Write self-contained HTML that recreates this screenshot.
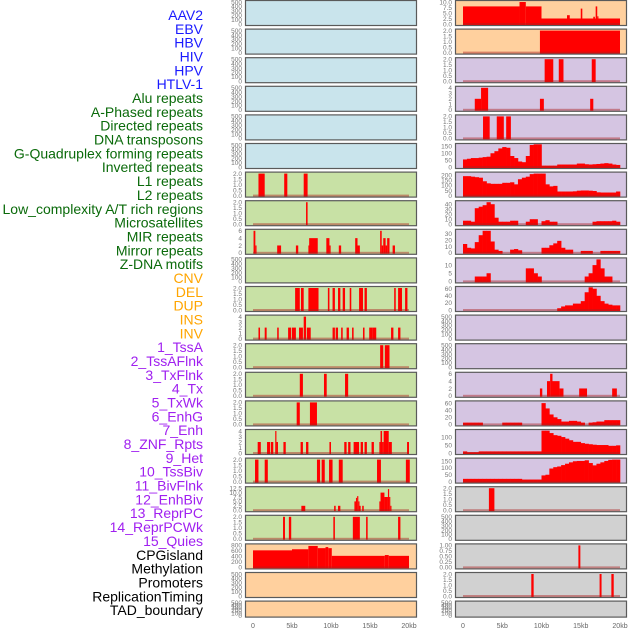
<!DOCTYPE html>
<html><head><meta charset="utf-8">
<style>
html,body{margin:0;padding:0;background:#fff;}
svg{display:block;font-family:"Liberation Sans",sans-serif;}
</style></head>
<body>
<svg id="chart" width="630" height="630" viewBox="0 0 630 630" xmlns="http://www.w3.org/2000/svg"></svg>
<script>
// ---------- labels ----------
const trackLabels = ["AAV2","EBV","HBV","HIV","HPV","HTLV-1","Alu repeats","A-Phased repeats","Directed repeats","DNA transposons","G-Quadruplex forming repeats","Inverted repeats","L1 repeats","L2 repeats","Low_complexity A/T rich regions","Microsatellites","MIR repeats","Mirror repeats","Z-DNA motifs","CNV","DEL","DUP","INS","INV","1_TssA","2_TssAFlnk","3_TxFlnk","4_Tx","5_TxWk","6_EnhG","7_Enh","8_ZNF_Rpts","9_Het","10_TssBiv","11_BivFlnk","12_EnhBiv","13_ReprPC","14_ReprPCWk","15_Quies","CPGisland","Methylation","Promoters","ReplicationTiming","TAD_boundary"];
const labelGroups = [6,13,5,15,5];
const xTickValues = [0,5,10,15,20];
const xTickLabels = ["0","5kb","10kb","15kb","20kb"];

// ---------- bar-type data: [startKb, endKb, value] ----------
const aluSegs = [[0.7,1.5,2],[4.0,4.4,2],[6.5,7.0,2]];
const aPhasedSegs = [[6.8,7.0,2]];
const directedSegs = [[0.07,0.3,6],[0.3,0.45,2],[3.1,3.6,2],[5.5,5.8,2],[7.1,7.2,2],[7.2,8.3,4],[9.4,9.8,4],[9.8,9.9,2],[11.0,11.3,2],[13.1,13.4,4],[13.4,13.7,2],[16.3,16.5,6],[16.5,16.7,2],[16.7,17.0,4],[17.0,17.2,2],[17.2,17.5,4],[17.9,18.2,2]];
const gquadSegs = [[5.4,6.0,2],[6.15,6.5,2],[7.1,8.4,2],[9.6,9.8,2],[10.2,10.5,2],[10.9,11.2,2],[11.5,11.8,2],[12.4,12.6,2],[13.6,14.1,2],[14.3,14.6,2],[18.1,18.3,2],[18.6,19.1,2],[19.5,19.8,2]];
const invertedSegs = [[0.7,0.9,2],[1.5,1.75,2],[3.1,3.3,2],[4.5,4.9,2],[5.0,5.5,2],[5.9,6.4,2],[6.5,6.8,4],[6.9,7.4,2],[10.2,10.5,2],[10.6,10.9,2],[11.3,11.5,2],[12.0,12.3,2],[12.7,12.9,2],[14.1,14.3,2],[14.9,15.3,2],[15.3,15.8,2],[17.7,18.0,2],[18.6,18.9,2]];
const l1Segs = [[16.3,16.7,2],[16.9,17.5,2]];
const l2Segs = [[6.0,6.4,2],[9.1,9.45,2],[11.8,12.2,2]];
const lowCompSegs = [[5.6,6.0,2],[7.3,8.2,2]];
const microSegs = [[0.6,1.0,2],[1.8,2.2,2],[2.3,2.6,2],[2.85,3.0,4],[3.0,3.2,2],[3.9,4.2,2],[6.1,6.4,2],[6.8,7.1,2],[9.8,10.0,2],[11.7,12.0,2],[12.2,12.5,2],[12.9,13.6,2],[13.8,14.1,2],[14.3,14.6,2],[15.2,15.5,2],[16.2,16.35,2],[16.35,16.55,4],[16.55,16.75,2],[16.75,17.4,4],[17.4,17.8,2],[19.75,20.0,2]];
const mirSegs = [[0.26,0.7,2],[1.5,1.9,2],[8.2,8.6,2],[8.8,9.2,2],[9.75,10.2,2],[11.0,11.5,2],[15.9,16.4,2],[19.6,20.1,2]];
const mirrorSegs = [[6.2,6.7,2.5],[10.4,10.6,2.5],[10.9,11.2,2.5],[13.0,13.2,5],[13.2,13.35,7],[13.35,13.5,8],[13.5,13.65,5],[13.65,13.8,2.5],[14.0,14.2,2.5],[16.2,16.35,5],[16.35,16.85,10],[16.85,17.3,7.5],[17.3,17.45,12],[17.45,17.6,7.5],[17.6,17.75,2.5]];
const zdnaSegs = [[3.85,4.1,2],[4.6,4.9,2],[10.3,10.5,2],[12.8,13.7,2],[14.5,14.7,2],[18.6,18.9,2]];
const cnvSegs = [[0,5.0,620],[5.0,7.1,660],[7.1,8.3,780],[8.3,9.3,700],[9.3,9.65,740],[9.65,10.1,700],[10.1,16.9,420],[16.9,17.4,450],[17.4,20.0,420]];
const insSegs = [[0,7.2,8],[7.2,8.0,10],[8.0,10.0,8],[10.0,20.0,2.5],[13.25,13.6,4],[15.0,15.2,7],[16.6,16.8,3.3],[16.9,17.1,8],[17.1,17.25,3.5]];
const invSegs = [[9.8,20.0,2]];
const tssASegs = [[10.4,11.5,2],[12.2,12.8,2],[16.4,16.9,2]];
const tssAFlnkSegs = [[1.5,2.3,2],[2.3,3.2,4],[9.8,10.3,2],[16.2,16.6,2]];
const txFlnkSegs = [[2.55,3.4,2],[4.3,5.2,2],[5.5,6.1,2]];
const enhBivSegs = [[9.8,10.1,2],[10.7,11.1,4],[11.1,11.4,6],[11.4,12.3,4],[12.3,12.8,2],[14.8,15.8,2],[19.0,19.6,2]];
const cpgSegs = [[3.3,4.0,2]];
const promoterSegs = [[14.7,14.95,1]];
const replSegs = [[8.7,9.0,2],[17.4,17.65,2],[18.9,19.2,2]];

// ---------- area-type data: values per 0.5kb bin (0 .. 19.5kb) ----------
const txBins = [55,60,65,65,68,72,75,100,115,135,145,140,80,65,40,35,80,160,175,165,10,10,10,10,18,18,18,18,18,25,25,20,18,20,22,25,28,25,18,15];
const txWkBins = [190,190,185,180,175,140,120,115,115,115,125,125,130,110,160,175,185,210,215,215,215,110,90,95,40,40,40,40,42,48,50,50,48,45,32,30,30,30,30,40];
const enhGBins = [7,7,5,32,35,38,44,40,13,5,5,5,7,7,0,0,5,10,10,0,6,8,5,5,0,0,0,0,0,0,0,0,0,5,6,6,6,6,7,5];
const enhBins = [14,8,7,17,28,35,35,18,5,3,0,0,5,6,4,0,0,0,0,0,8,8,12,15,19,8,5,5,0,0,3,3,3,0,0,3,3,3,3,3];
const znfBins = [0,0,0,3,3,3,5,0,0,0,0,0,0,0,0,0,8,8,5,3,0,0,0,0,0,0,0,0,0,0,0,3,5,10,13.5,8,3,3,0,0];
const hetBins = [0,0,0,0,0,0,0,0,0,0,0,0,0,0,0,0,0,0,0,0,0,0,0,0,5,10,13,13,18,18,25,50,65,60,40,25,18,15,13,13];
const reprPCBins = [5,5,5,5,5,0,0,0,0,0,5,5,5,5,5,0,0,0,0,0,60,45,28,20,15,8,8,10,10,8,5,0,5,6,8,8,12,12,12,12];
const reprPCWkBins = [10,5,5,5,10,10,10,10,10,10,10,10,10,10,10,10,10,10,10,10,140,140,125,112,108,100,90,80,70,70,62,58,55,52,50,50,50,45,45,48];
const quiesBins = [20,20,20,20,20,20,20,20,20,20,20,20,20,20,20,15,15,15,15,15,45,50,95,105,110,120,130,140,148,150,150,155,135,118,130,140,150,158,160,160];

// ---------- tick label sets ----------
const ticksEmpty = ["0","100","200","300","400","500"];
const ticks2 = ["0.0","0.5","1.0","1.5","2.0"];
const ticks4 = ["0","1","2","3","4"];
const ticks6 = ["0","2","4","6"];

// panel config: [col,row,bg,type,data,ymax,tickLabels,tickVals]
const BG = {blue:"#c9e4ec", green:"#c8e1a5", peach:"#ffd09e", lav:"#d5c5e2", grey:"#d1d1d1"};
const panels = [
 [0,0,"blue"],[0,1,"blue"],[0,2,"blue"],[0,3,"blue"],[0,4,"blue"],[0,5,"blue"],
 [0,6,"green","bar",aluSegs,2,ticks2,[0,0.5,1,1.5,2]],
 [0,7,"green","bar",aPhasedSegs,2,ticks2,[0,0.5,1,1.5,2]],
 [0,8,"green","bar",directedSegs,6,["0","2","4","6"],[0,2,4,6]],
 [0,9,"green"],
 [0,10,"green","bar",gquadSegs,2,ticks2,[0,0.5,1,1.5,2]],
 [0,11,"green","bar",invertedSegs,4,ticks4,[0,1,2,3,4]],
 [0,12,"green","bar",l1Segs,2,ticks2,[0,0.5,1,1.5,2]],
 [0,13,"green","bar",l2Segs,2,ticks2,[0,0.5,1,1.5,2]],
 [0,14,"green","bar",lowCompSegs,2,ticks2,[0,0.5,1,1.5,2]],
 [0,15,"green","bar",microSegs,4,ticks4,[0,1,2,3,4]],
 [0,16,"green","bar",mirSegs,2,ticks2,[0,0.5,1,1.5,2]],
 [0,17,"green","bar",mirrorSegs,12.5,["0.0","2.5","5.0","7.5","10.0","12.5"],[0,2.5,5,7.5,10,12.5]],
 [0,18,"green","bar",zdnaSegs,2,ticks2,[0,0.5,1,1.5,2]],
 [0,19,"peach","bar",cnvSegs,800,["0","200","400","600","800"],[0,200,400,600,800]],
 [0,20,"peach"],[0,21,"peach"],
 [1,0,"peach","bar",insSegs,10,["0.0","2.5","5.0","7.5","10.0"],[0,2.5,5,7.5,10]],
 [1,1,"peach","bar",invSegs,2,ticks2,[0,0.5,1,1.5,2]],
 [1,2,"lav","bar",tssASegs,2,ticks2,[0,0.5,1,1.5,2]],
 [1,3,"lav","bar",tssAFlnkSegs,4,ticks4,[0,1,2,3,4]],
 [1,4,"lav","bar",txFlnkSegs,2,ticks2,[0,0.5,1,1.5,2]],
 [1,5,"lav","area",txBins,160,["0","50","100","150"],[0,50,100,150]],
 [1,6,"lav","area",txWkBins,215,["0","50","100","150","200"],[0,50,100,150,200]],
 [1,7,"lav","area",enhGBins,44,["0","10","20","30","40"],[0,10,20,30,40]],
 [1,8,"lav","area",enhBins,35,["0","10","20","30"],[0,10,20,30]],
 [1,9,"lav","area",znfBins,13.5,["0","5","10"],[0,5,10]],
 [1,10,"lav","area",hetBins,62,["0","20","40","60"],[0,20,40,60]],
 [1,11,"lav"],[1,12,"lav"],
 [1,13,"lav","bar",enhBivSegs,6,ticks6,[0,2,4,6]],
 [1,14,"lav","area",reprPCBins,62,["0","20","40","60"],[0,20,40,60]],
 [1,15,"lav","area",reprPCWkBins,138,["0","50","100"],[0,50,100]],
 [1,16,"lav","area",quiesBins,160,["0","50","100","150"],[0,50,100,150]],
 [1,17,"grey","bar",cpgSegs,2,ticks2,[0,0.5,1,1.5,2]],
 [1,18,"grey"],
 [1,19,"grey","bar",promoterSegs,1,["0.00","0.25","0.50","0.75","1.00"],[0,0.25,0.5,0.75,1]],
 [1,20,"grey","bar",replSegs,2,ticks2,[0,0.5,1,1.5,2]],
 [1,21,"grey"]
];

const NS = "http://www.w3.org/2000/svg";
const svg = document.getElementById("chart");
function mk(tag, attrs, parent){
  const e = document.createElementNS(NS, tag);
  for (const k in attrs) e.setAttribute(k, attrs[k]);
  (parent||svg).appendChild(e);
  return e;
}
const colX = [245, 455];
const colW = 171;
const kb0 = [253, 463];
const kbScale = [7.8, 7.85];
function xScale(col, kb){ return kb0[col] + kb*kbScale[col]; }
function rowTop(r){ return r*28.6; }
function rowH(r){ return r===21 ? 16 : 25; }

// labels
const groupColors = ["#1a1aff","#0a6a0a","#ffa500","#a020f0","#000000"];
let gi = 0, cnt = 0;
trackLabels.forEach((t,i)=>{
  while (cnt >= labelGroups[gi]) { cnt -= labelGroups[gi]; gi++; }
  cnt++;
  const el = mk("text",{x:203,y:15+i*13.84+5,"text-anchor":"end","font-size":"14px",fill:groupColors[gi]});
  el.textContent = t;
  
  
});

panels.forEach((p, idx)=>{
  const [col,row,bgKey,type,data,ymax,tLabels,tVals] = p;
  const x = colX[col], top = rowTop(row), h = rowH(row);
  const g = mk("g",{});
  
  
  mk("rect",{x:x+0.5,y:top+0.5,width:colW,height:h,fill:BG[bgKey],stroke:"#5a5a5a","stroke-width":1.2},g);
  const y0 = top + h - 1, y1 = top + 2;
  if (!type){
    ticksEmpty.forEach((t,i)=>{
      const yy = y0 - i*(y0-y1)/5;
      const el = mk("text",{x:x-3,y:yy+2.3,"text-anchor":"end","font-size":"6.5px",fill:"#777"},g);
      el.textContent = t;
      
      
    });
    return;
  }
  const yScale = v => y0 - Math.min(v/ymax,1.03)*(y0-y1);
  const cp = "clip"+idx;
  const cpEl = mk("clipPath",{id:cp},g);
  mk("rect",{x:x+1,y:top+1,width:colW-1,height:h-1},cpEl);
  const marks = mk("g",{"clip-path":"url(#"+cp+")"},g);
  if (type === "bar"){
    data.forEach(s=>{
      const xa = xScale(col,s[0]), xb = xScale(col,s[1]);
      const yt = yScale(s[2]);
      const r = mk("rect",{x:xa,y:yt,width:Math.max(xb-xa,1.2),height:y0-yt+1,fill:"#ff0000"},marks);
      
      
    });
  } else {
    data.forEach((v,i)=>{
      if (v<=0) return;
      const xa = xScale(col,i*0.5), xb = xScale(col,(i+1)*0.5);
      const yt = yScale(v);
      const r = mk("rect",{x:xa,y:yt,width:xb-xa+0.3,height:y0-yt+1,fill:"#ff0000"},marks);
      
      
    });
  }
  mk("rect",{x:xScale(col,0),y:y0-1,width:xScale(col,20)-xScale(col,0),height:2,fill:"rgba(170,30,30,0.45)"},marks);
  tLabels.forEach((t,i)=>{
    const yy = yScale(tVals[i]);
    const el = mk("text",{x:x-3,y:yy+2.3,"text-anchor":"end","font-size":"6.5px",fill:"#777"},g);
    el.textContent = t;
    
    
  });
});

// x axes
[0,1].forEach(col=>{
  xTickValues.forEach((v,i)=>{
    const el = mk("text",{x:xScale(col,v),y:628,"text-anchor":"middle","font-size":"7px",fill:"#666"});
    el.textContent = xTickLabels[i];
    
    
  });
});
</script>
</body></html>
